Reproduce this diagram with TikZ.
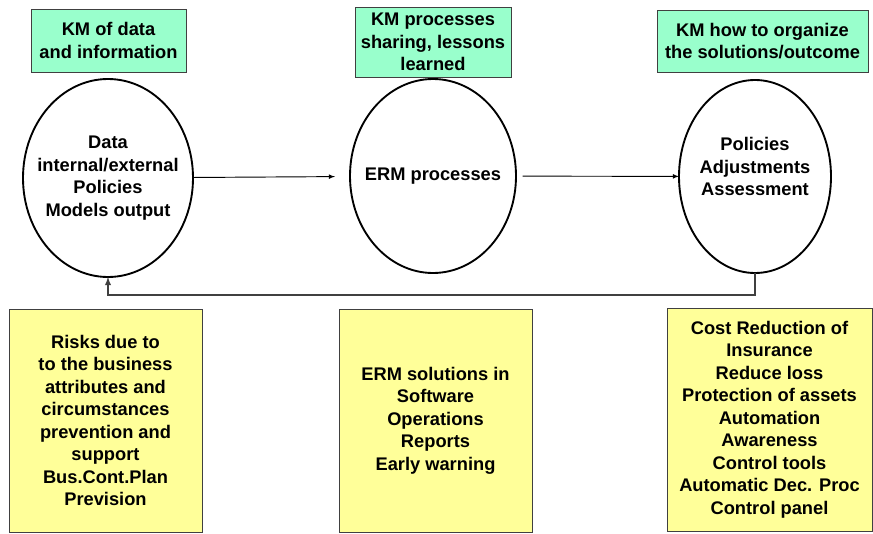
\documentclass[tikz,border=0pt]{standalone}
\usepackage{fontspec}
\setmainfont{Liberation Sans}
\usetikzlibrary{arrows,shapes.geometric}
\definecolor{kmgreen}{HTML}{99FFCC}
\definecolor{riskyellow}{HTML}{FFFF99}

\begin{document}
\begin{tikzpicture}[x=0.03cm,y=-0.03cm,
	every node/.style={font={\bfseries\fontsize{15.6pt}{19.2pt}\selectfont},align=center,outer sep=0pt},
	km_box/.style={rectangle,fill=kmgreen,draw=black!75,line width=0.6pt,inner sep=0pt},
	erm_node/.style={ellipse,draw,line width=1.6pt,inner sep=0pt},
	out_box/.style={rectangle,fill=riskyellow,draw=black!75,line width=0.6pt,inner sep=0pt},
	flow/.style={-latex,line width=0.8pt},
	feedback/.style={-latex,draw=black!75,line width=1.4pt}]
		
		\useasboundingbox (0,0) rectangle (873,533);
		
		\node[km_box,minimum width=4.65cm,minimum height=1.89cm] (km1) at (108.5,40.5) {KM of data\\and information};
		\node[km_box,minimum width=4.68cm,minimum height=2.1cm] (km2) at (433,42) {KM processes\\sharing, lessons\\learned};
		\node[km_box,minimum width=6.33cm,minimum height=1.86cm] (km3) at (762.5,41) {KM how to organize\\the solutions/outcome};
		
		\node[erm_node,minimum width=5.1cm,minimum height=5.94cm,label={center:Data\\internal/external\\Policies\\Models output}] (e1) at (108,178) {};
		\node[erm_node,minimum width=4.98cm,minimum height=5.82cm,label={center:ERM processes}] (e2) at (433,176) {};
		\node[erm_node,minimum width=4.56cm,minimum height=5.79cm,label={[yshift=0.3cm]center:Policies\\Adjustments\\Assessment}] (e3) at (755,176.5) {};
		
		\node[out_box,minimum width=5.79cm,minimum height=6.69cm] (b1) at (105.5,420.5) {Risks due to\\to the business\\attributes and\\circumstances\\prevention and\\support\\Bus.Cont.Plan\\Prevision};
		\node[out_box,minimum width=5.79cm,minimum height=6.69cm] (b2) at (435.5,420.5) {ERM solutions in\\Software\\Operations\\Reports\\Early warning};
		\node[out_box,minimum width=6.15cm,minimum height=6.69cm] (b3) at (769.5,419.5) {Cost Reduction of\\Insurance\\Reduce loss\\Protection of assets\\Automation\\Awareness\\Control tools\\Automatic Dec. Proc\\Control panel};
		
		\draw[flow,shorten >=0.45cm] (e1) -- (e2);
		\draw[flow,shorten <=0.2cm] (e2) -- (e3);
		\draw[feedback] (e3.south) -- ++(0,22) -| (e1.south);
		\end{tikzpicture}
\end{document}
